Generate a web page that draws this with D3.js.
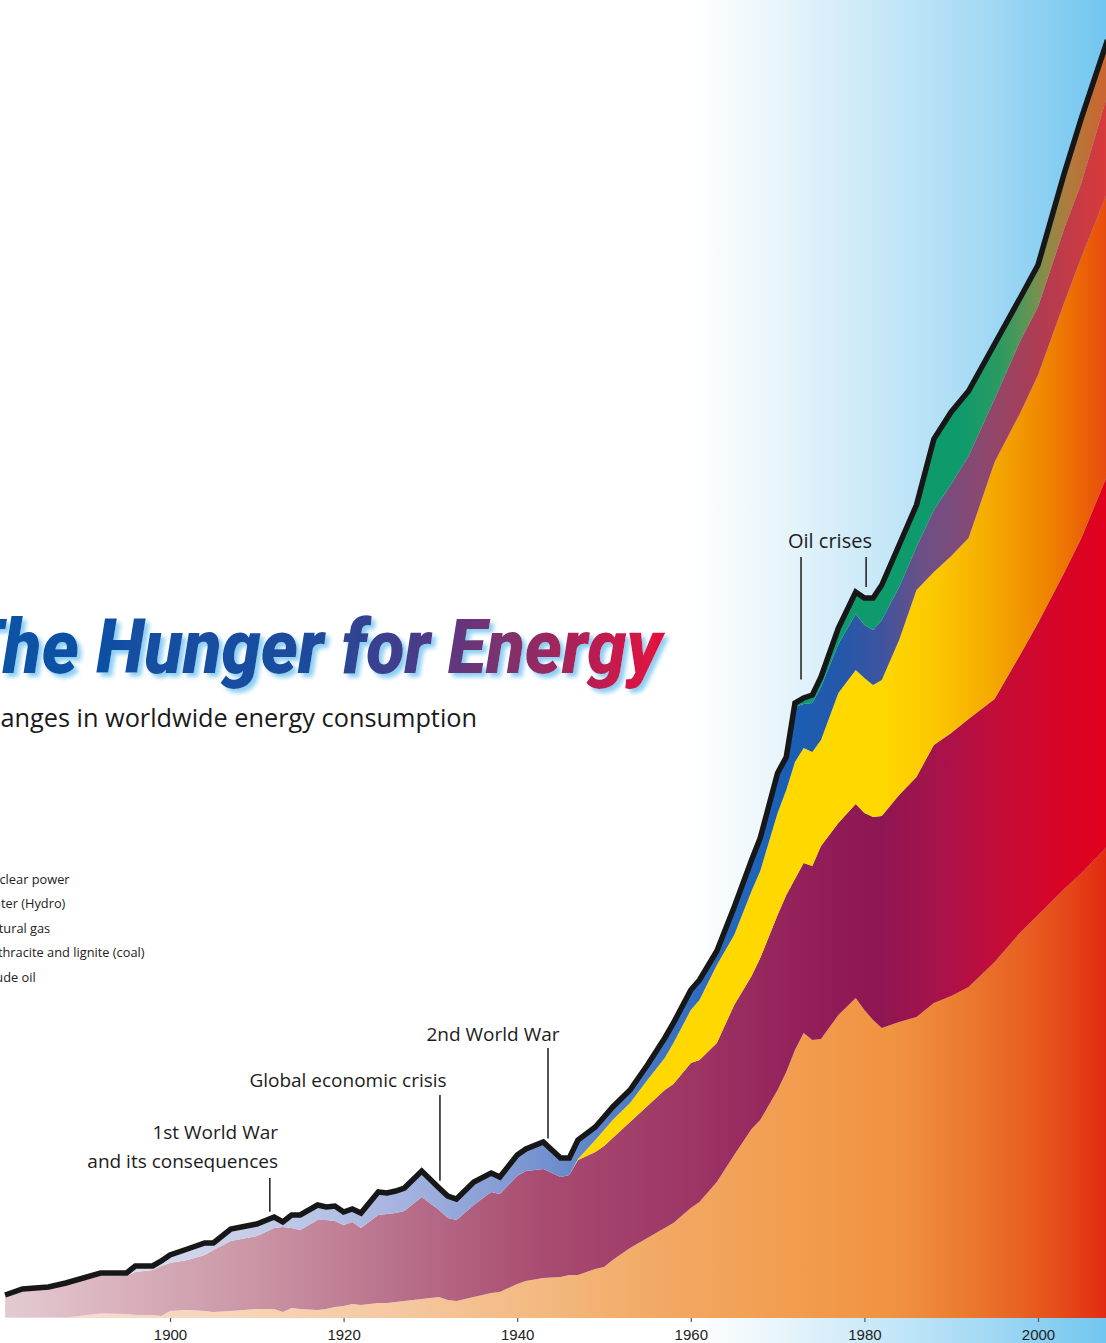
<!DOCTYPE html>
<html>
<head>
<meta charset="utf-8">
<script src="https://cdn.jsdelivr.net/npm/d3@7"></script>
<style>
  html, body { margin: 0; padding: 0; background: #ffffff; overflow: hidden; }
  svg { display: block; }
</style>
</head>
<body>
<svg id="chart" width="1106" height="1343"></svg>
<script>
// World primary energy consumption by source, million tonnes oil equivalent
const years = [
  1881, 1883, 1886, 1888, 1892, 1895, 1896, 1898, 1899, 1900,
  1902, 1904, 1905, 1907, 1910, 1912, 1913, 1914, 1915, 1917,
  1918, 1919, 1920, 1921, 1922, 1924, 1925, 1926, 1927, 1929,
  1931, 1932, 1933, 1935, 1937, 1938, 1940, 1941, 1943, 1945,
  1946, 1947, 1949, 1950, 1951, 1953, 1955, 1957, 1958, 1960,
  1961, 1963, 1965, 1967, 1968, 1970, 1971, 1972, 1973, 1974,
  1975, 1977, 1979, 1980, 1981, 1982, 1984, 1986, 1988, 1990,
  1992, 1995, 1998, 2000, 2003, 2005, 2008
];
const crudeOil = [
  5, 5, 5, 5, 45, 40, 30, 30, 20, 70,
  80, 70, 60, 70, 90, 90, 60, 100, 90, 80,
  90, 110, 120, 140, 130, 150, 150, 160, 170, 190,
  210, 180, 170, 210, 250, 260, 340, 370, 400, 410,
  430, 430, 490, 510, 580, 700, 800, 900, 950, 1100,
  1160, 1360, 1630, 1890, 1980, 2280, 2460, 2680, 2850, 2780,
  2790, 3030, 3200, 3080, 2980, 2900, 2960, 3010, 3150, 3220,
  3310, 3560, 3860, 4030, 4290, 4450, 4720
];
const coal = [
  215, 265, 295, 325, 375, 380, 430, 450, 500, 480,
  500, 560, 620, 700, 730, 810, 850, 800, 790, 900,
  890, 860, 810, 820, 770, 880, 890, 890, 900, 1020,
  870, 820, 810, 920, 1010, 980, 1080, 1100, 1090, 1000,
  1000, 1150, 1170, 1210, 1220, 1260, 1320, 1380, 1390, 1450,
  1420, 1390, 1500, 1530, 1620, 1750, 1770, 1710, 1700, 1740,
  1930, 1920, 1940, 1970, 2030, 2120, 2270, 2400, 2580, 2630,
  2680, 2630, 2780, 2920, 3160, 3350, 3710
];
const naturalGas = [
  0, 0, 0, 0, 0, 0, 0, 0, 0, 0,
  0, 0, 0, 0, 0, 0, 0, 0, 0, 0,
  0, 0, 0, 0, 0, 0, 0, 0, 0, 0,
  0, 0, 0, 0, 0, 0, 0, 0, 0, 0,
  0, 10, 120, 160, 180, 190, 260, 320, 410, 530,
  600, 780, 700, 850, 870, 1020, 1050, 1170, 1150, 1140,
  1060, 1300, 1340, 1350, 1320, 1360, 1550, 1870, 1730, 1770,
  1810, 2370, 2420, 2480, 2700, 2810, 2830
];
const hydro = [
  10, 20, 10, 20, 30, 30, 60, 40, 50, 80,
  110, 120, 70, 120, 120, 110, 50, 130, 150, 150,
  130, 150, 130, 130, 150, 230, 210, 220, 230, 260,
  220, 220, 210, 230, 190, 170, 210, 220, 270, 190,
  170, 190, 130, 130, 130, 130, 150, 200, 200, 200,
  200, 140, 280, 310, 330, 390, 310, 550, 440, 490,
  530, 490, 560, 530, 550, 600, 530, 430, 620, 720,
  820, 630, 720, 680, 740, 740, 970
];
const nuclear = [
  0, 0, 0, 0, 0, 0, 0, 0, 0, 0,
  0, 0, 0, 0, 0, 0, 0, 0, 0, 0,
  0, 0, 0, 0, 0, 0, 0, 0, 0, 0,
  0, 0, 0, 0, 0, 0, 0, 0, 0, 0,
  0, 0, 0, 0, 0, 0, 0, 0, 0, 0,
  0, 0, 0, 0, 0, 10, 20, 40, 60, 80,
  100, 160, 220, 270, 320, 350, 420, 420, 710, 720,
  650, 550, 430, 420, 550, 650, 550
];

const tickYears = [1900, 1920, 1940, 1960, 1980, 2000];
const legendLabels = ["Nuclear power", "Water (Hydro)", "Natural gas", "Anthracite and lignite (coal)", "Crude oil"];
const events = [
  { lines: ["Oil crises"], years: [1972.7, 1980.2] },
  { lines: ["2nd World War"], years: [1943.55] },
  { lines: ["Global economic crisis"], years: [1931.1] },
  { lines: ["1st World War", "and its consequences"], years: [1911.5] }
];

const keys = ["oil", "coal", "gas", "hydro", "nuclear"];
const rows = years.map((y, i) => ({
  year: y, oil: crudeOil[i], coal: coal[i], gas: naturalGas[i], hydro: hydro[i], nuclear: nuclear[i]
}));

const W = 1106, H = 1343;
const svg = d3.select("#chart");
const defs = svg.append("defs");

const x = d3.scaleLinear().domain([1900, 2000]).range([170, 1038]);
const y = d3.scaleLinear().domain([0, 12800]).range([1318, 38]);

// horizontal colour ramps for each layer (x positions in pixels)
function ramp(id, stops) {
  const g = defs.append("linearGradient").attr("id", id)
    .attr("gradientUnits", "userSpaceOnUse")
    .attr("x1", 0).attr("y1", 0).attr("x2", W).attr("y2", 0);
  stops.forEach(([px, c]) => g.append("stop").attr("offset", px / W).attr("stop-color", c));
}
ramp("sky", [[0, "#ffffff"], [690, "#ffffff"], [780, "#e8f5fb"], [880, "#c8e8f8"], [980, "#a6daf4"], [1106, "#72c6f0"]]);
ramp("g-oil", [[0, "#f2dcd8"], [100, "#f5dccc"], [250, "#f7d4b6"], [400, "#f5c8a0"], [550, "#f3b87e"], [650, "#f2aa66"],
  [800, "#f29c4e"], [900, "#f09240"], [960, "#ec7c30"], [1020, "#e86222"], [1070, "#e54618"], [1106, "#e22a10"]]);
ramp("g-coal", [[0, "#e4ccd2"], [100, "#dbb6c0"], [250, "#cb96a6"], [400, "#b8708a"], [550, "#a84a70"], [700, "#9c3464"],
  [820, "#921d58"], [880, "#8e1652"], [940, "#a8124a"], [1000, "#c40c38"], [1060, "#d80426"], [1106, "#e0001c"]]);
ramp("g-gas", [[0, "#ffd900"], [880, "#ffd800"], [940, "#fbc600"], [1000, "#f4a400"], [1050, "#ef8200"], [1090, "#ea5c08"], [1106, "#e84c10"]]);
ramp("g-hydro", [[0, "#e2e2f0"], [150, "#d6daee"], [300, "#bcc6e6"], [420, "#a0b0de"], [520, "#7e98d2"], [600, "#5a82c8"],
  [700, "#2f6cbe"], [780, "#1860b6"], [840, "#2458aa"], [880, "#3c54a0"], [920, "#6a5088"], [980, "#8a4870"],
  [1040, "#b03c52"], [1106, "#d83a3a"]]);
ramp("g-nuclear", [[0, "#0c9a70"], [960, "#0f9a6c"], [1000, "#2c9a60"], [1025, "#5a9656"], [1045, "#8a8c48"],
  [1070, "#b27a3c"], [1106, "#cc6430"]]);

const titleGrad = defs.append("linearGradient").attr("id", "g-title")
  .attr("gradientUnits", "userSpaceOnUse").attr("x1", 0).attr("y1", 0).attr("x2", 662).attr("y2", 0);
[[0, "#0b52a6"], [0.45, "#1b4c9e"], [0.62, "#463c8a"], [0.78, "#862f6a"], [1, "#e6103e"]]
  .forEach(([o, c]) => titleGrad.append("stop").attr("offset", o).attr("stop-color", c));

const glow = defs.append("filter").attr("id", "glow")
  .attr("x", "-5%").attr("y", "-30%").attr("width", "115%").attr("height", "170%");
glow.append("feGaussianBlur").attr("in", "SourceAlpha").attr("stdDeviation", 2.2).attr("result", "b");
glow.append("feOffset").attr("in", "b").attr("dx", 4).attr("dy", 4).attr("result", "o");
glow.append("feFlood").attr("flood-color", "#8ccff3");
glow.append("feComposite").attr("in2", "o").attr("operator", "in").attr("result", "s");
const merge = glow.append("feMerge");
merge.append("feMergeNode").attr("in", "s");
merge.append("feMergeNode").attr("in", "SourceGraphic");

// sky backdrop
svg.append("rect").attr("width", W).attr("height", H).attr("fill", "url(#sky)");

// stacked layers
const series = d3.stack().keys(keys)(rows);
const area = d3.area()
  .x(d => x(d.data.year))
  .y0(d => y(d[0]))
  .y1(d => y(d[1]));

svg.append("g").selectAll("path")
  .data(series)
  .join("path")
  .attr("d", area)
  .attr("fill", d => `url(#g-${d.key})`);

// outline of total consumption
const totalLine = d3.line()
  .x(d => x(d.data.year))
  .y(d => y(d[1]));
svg.append("path")
  .datum(series[series.length - 1])
  .attr("d", totalLine)
  .attr("fill", "none")
  .attr("stroke", "#171717")
  .attr("stroke-width", 5.5)
  .attr("stroke-linejoin", "miter")
  .attr("stroke-miterlimit", 3);

// x axis
const axis = svg.append("g")
  .attr("transform", `translate(0,${y(0)})`)
  .call(d3.axisBottom(x).tickValues(tickYears).tickFormat(d3.format("d")).tickSize(4).tickPadding(7));
axis.select(".domain").remove();
axis.selectAll(".tick line").attr("stroke", "#555").attr("stroke-width", 1.2);
axis.selectAll(".tick text")
  .attr("fill", "#222")
  .style("font-family", "'Liberation Sans', Arial, sans-serif")
  .style("font-size", "15px");

// title and subtitle
svg.append("text")
  .attr("x", -40).attr("y", 673)
  .attr("textLength", 702).attr("lengthAdjust", "spacingAndGlyphs")
  .attr("fill", "url(#g-title)")
  .attr("filter", "url(#glow)")
  .style("font-family", "Roboto, 'Liberation Sans', sans-serif")
  .style("font-weight", 900)
  .style("font-style", "italic")
  .style("font-size", "75px")
  .text("The Hunger for Energy");

svg.append("text")
  .attr("x", -31).attr("y", 727)
  .attr("textLength", 508).attr("lengthAdjust", "spacingAndGlyphs")
  .attr("fill", "#1a1a1a")
  .style("font-family", "'Open Sans', sans-serif")
  .style("font-size", "26px")
  .text("Changes in worldwide energy consumption");

// legend labels
svg.append("g").selectAll("text")
  .data(legendLabels)
  .join("text")
  .attr("x", -18)
  .attr("y", (d, i) => 884 + i * 24.4)
  .attr("fill", "#222")
  .style("font-family", "'Open Sans', sans-serif")
  .style("font-size", "12.8px")
  .text(d => d);

// event annotations
const totals = series[series.length - 1];
function totalAt(yr) {
  const i = d3.bisector(d => d.data.year).left(totals, yr);
  const a = totals[Math.max(0, i - 1)], b = totals[Math.min(totals.length - 1, i)];
  if (a === b) return a[1];
  const t = (yr - a.data.year) / (b.data.year - a.data.year);
  return a[1] + t * (b[1] - a[1]);
}
const labelLayout = [
  { x: 830, y: 548, anchor: "middle", size: 20, lineTop: 557, gaps: [20, 11] },
  { x: 493, y: 1041, anchor: "middle", size: 19, lineTop: 1048, gaps: [8] },
  { x: 348, y: 1087, anchor: "middle", size: 19, lineTop: 1095, gaps: [8] },
  { x: 278, y: 1139, anchor: "end", size: 19, lineTop: 1178, gaps: [7], lead: 29 }
];
const ann = svg.append("g");
events.forEach((ev, k) => {
  const L = labelLayout[k];
  ev.lines.forEach((ln, j) => {
    ann.append("text")
      .attr("x", L.x).attr("y", L.y + j * (L.lead || 0))
      .attr("text-anchor", L.anchor)
      .attr("fill", "#1c1c1c")
      .style("font-family", "'Open Sans', sans-serif")
      .style("font-size", L.size + "px")
      .text(ln);
  });
  ev.years.forEach((yr, j) => {
    ann.append("line")
      .attr("x1", x(yr)).attr("x2", x(yr))
      .attr("y1", L.lineTop).attr("y2", y(totalAt(yr)) - L.gaps[j])
      .attr("stroke", "#2a2a2a").attr("stroke-width", 1.6);
  });
});
</script>
</body>
</html>
